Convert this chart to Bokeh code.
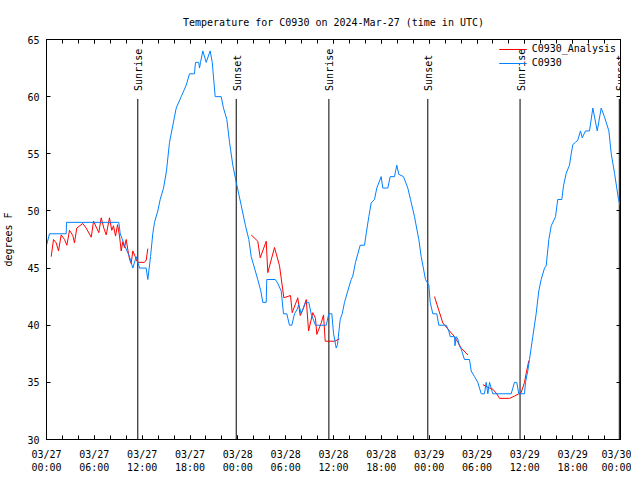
import math
from bokeh.plotting import figure
from bokeh.models import FixedTicker, LinearAxis, Range1d, Legend, LegendItem, ColumnDataSource
from bokeh.core.properties import value
from bokeh.embed import file_html
from bokeh.resources import INLINE

FONT = "DejaVu Sans Mono"
NAN = float("nan")

# x axis: hours since 2024-03-27 00:00 UTC
tick_hours = [0, 6, 12, 18, 24, 30, 36, 42, 48, 54, 60, 66, 72]
tick_labels = ["03/27\n00:00", "03/27\n06:00", "03/27\n12:00", "03/27\n18:00",
               "03/28\n00:00", "03/28\n06:00", "03/28\n12:00", "03/28\n18:00",
               "03/29\n00:00", "03/29\n06:00", "03/29\n12:00", "03/29\n18:00",
               "03/30\n00:00"]
minor_hours = list(range(0, 73, 2))
y_ticks = [30, 35, 40, 45, 50, 55, 60, 65]

# C0930 observed temperature (deg F)
obs_t = [0.0, 0.38, 2.47, 2.51, 9.07, 9.25, 9.78, 10.41, 10.83, 11.25, 11.67, 12.50, 12.71,
         13.05, 13.33, 13.55, 13.96, 14.26, 14.68, 15.05, 15.43, 16.27, 16.90, 17.52, 17.94,
         18.56, 18.69, 19.10, 19.19, 19.32, 19.61, 20.03, 20.53, 20.79, 21.16, 21.91, 22.20,
         22.62, 22.96, 23.37, 23.80, 24.42, 24.96, 25.38, 25.68, 26.09, 26.50, 26.88, 27.13,
         27.56, 27.63, 28.69, 28.98, 29.44, 29.73, 30.14, 30.48, 30.77, 31.11, 31.45, 31.65,
         31.95, 32.49, 32.90, 33.20, 33.74, 35.09, 35.41, 35.79, 36.00, 36.34, 36.50, 36.84,
         37.09, 37.38, 37.79, 38.22, 38.42, 38.76, 39.35, 39.89, 40.10, 40.43, 40.73, 41.14,
         41.43, 41.98, 42.18, 42.81, 43.11, 43.65, 43.94, 44.19, 44.78, 45.32, 45.66, 46.16,
         46.70, 47.00, 47.54, 47.96, 48.13, 48.46, 48.96, 49.21, 50.14, 50.46, 50.64, 51.18,
         51.24, 51.39, 51.59, 51.80, 52.02, 52.43, 53.06, 53.27, 53.69, 54.10, 54.53, 54.94,
         55.15, 55.36, 55.57, 55.98, 58.29, 58.70, 58.99, 59.24, 59.96, 60.08, 60.37, 60.58,
         61.00, 61.42, 61.75, 62.05, 62.47, 62.68, 63.01, 63.31, 63.85, 64.13, 64.64, 64.85,
         65.19, 65.60, 65.82, 66.02, 66.36, 66.64, 66.98, 67.20, 67.61, 68.11, 68.53, 69.08,
         69.58, 70.00, 70.54, 70.84, 71.25, 71.75, 71.95]
obs_v = [47, 48, 48, 49, 49, 48, 47, 46, 45, 46, 45, 45, 44,
         46, 48, 49, 50, 51, 52, 53.5, 56, 59, 60, 61, 62,
         62, 63, 63, 62.5, 63, 64, 63, 64, 63, 60, 60, 59,
         58, 56, 54, 52.5, 50.5, 48.7, 47.5, 46, 45, 44, 43, 42,
         42, 44, 44, 43.7, 43, 41, 41, 40, 40, 41, 41.4, 41.8,
         41, 42, 42, 41, 40, 40, 41, 41, 39.3, 38, 38.3, 40.5,
         41, 42, 43, 44, 44.3, 45.5, 47, 47, 48, 49.5, 50.7, 51,
         52, 53, 52, 52, 53, 53, 54, 53.2, 53, 52, 51, 49.5,
         47.5, 46, 44, 43.5, 42, 41, 41, 40, 40, 39.5, 39, 39,
         38.2, 39, 38.8, 38.2, 37.9, 37, 37, 36, 35.5, 35, 34, 34,
         35, 34, 35, 34, 34, 35, 35, 34, 34, 35, 36, 37,
         39, 41, 43, 44, 45, 45.2, 47.5, 48.7, 49.5, 51, 51, 52.2,
         53.3, 54, 55, 55.8, 56, 56.2, 57, 56.4, 57, 57, 59, 57,
         59, 58.2, 57, 55, 53.3, 51, 50.5]

# C0930_Analysis (deg F); NaN separates the gaps
ana_t = [0.59, 0.88, 1.22, 1.51, 1.84, 2.26, 2.55, 2.89, 3.30, 3.51, 3.80, 4.55, 4.98, 5.61,
         5.90, 6.23, 6.56, 6.86, 7.19, 7.49, 7.90, 8.19, 8.40, 8.66, 8.91, 9.16, 9.37, 9.57,
         9.78, 10.00, 10.20, 10.41, 10.62, 10.83, 11.13, 11.33, 11.54, 12.29, 12.51, 12.71, NAN,
         25.68, 26.50, 26.81, 27.56, 27.76, 28.60, 29.23, 29.77, 30.61, 30.82, 31.52, 31.82,
         32.24, 32.58, 32.87, 33.40, 33.74, 33.91, 34.46, 34.75, 34.96, 36.13, 36.75, NAN,
         48.67, 49.71, 50.55, 51.18, 52.02, 52.85, NAN,
         54.73, 55.57, 55.98, 56.48, 56.82, 58.08, 58.70, 59.24, 59.54, 59.96, 60.17, 60.50]
ana_v = [46.0, 47.5, 47.2, 46.5, 47.9, 47.5, 47.0, 48.3, 47.85, 47.2, 48.5, 48.9, 48.5, 47.7,
         49.1, 48.6, 48.1, 49.4, 48.5, 47.9, 49.4, 48.3, 48.7, 47.8, 48.8, 47.8, 46.5, 47.3,
         46.8, 47.5, 46.6, 45.8, 45.4, 46.5, 46.0, 45.6, 45.5, 45.5, 45.7, 46.7, NAN,
         47.9, 47.35, 45.9, 47.35, 44.6, 46.8, 45.2, 42.4, 42.6, 41.1, 42.4, 40.85,
         41.5, 42.25, 39.5, 41.1, 40.6, 39.2, 40.2, 40.9, 38.6, 38.6, 38.8, NAN,
         42.5, 40.2, 39.5, 39.0, 38.0, 37.4, NAN,
         34.8, 34.5, 34.4, 34.0, 33.6, 33.6, 33.8, 34.0, 34.1, 35.0, 35.8, 36.9]

sun_t = [11.45, 23.80, 35.42, 47.83, 59.40, 71.85]
sun_names = ["Sunrise", "Sunset", "Sunrise", "Sunset", "Sunrise", "Sunset"]
sun_line_top = 59.8
sun_label_y = 60.5

p = figure(frame_width=574, frame_height=400, output_backend="svg", toolbar_location=None,
           x_range=Range1d(0, 72), y_range=Range1d(30, 65),
           min_border_left=41, min_border_right=11, min_border_top=39, min_border_bottom=30,
           title="Temperature for C0930 on 2024-Mar-27 (time in UTC)")
p.title.align = "center"
p.title.text_font = FONT
p.title.text_font_size = "10px"
p.title.text_font_style = "normal"
p.title.text_color = "black"
p.title.offset = 0
p.title.standoff = 24
p.outline_line_color = "black"
p.outline_line_width = 1
p.xgrid.visible = False
p.ygrid.visible = False
p.background_fill_color = "white"
p.border_fill_color = "white"

xt = FixedTicker(ticks=tick_hours, minor_ticks=minor_hours)
yt = FixedTicker(ticks=y_ticks, minor_ticks=[])

xa = p.xaxis[0]
xa.ticker = xt
xa.major_label_overrides = {h: l for h, l in zip(tick_hours, tick_labels)}
ya = p.yaxis[0]
ya.ticker = yt
ya.axis_label = "degrees F"

for ax in (xa, ya):
    ax.major_tick_in = 4
    ax.major_tick_out = 0
    ax.minor_tick_in = 4
    ax.minor_tick_out = 0
    ax.major_label_text_font = FONT
    ax.major_label_text_font_size = "10px"
    ax.major_label_text_color = "black"
    ax.axis_label_text_font = FONT
    ax.axis_label_text_font_size = "10px"
    ax.axis_label_text_font_style = "normal"
    ax.axis_label_text_color = "black"
    ax.axis_line_color = "black"
    ax.major_tick_line_color = "black"
    ax.minor_tick_line_color = "black"
xa.major_label_standoff = 9
ya.major_label_standoff = 7
ya.axis_label_standoff = 10

# mirrored ticks on top and right (no labels)
top = LinearAxis(ticker=xt, major_label_overrides={h: "" for h in tick_hours},
                 major_label_standoff=0,
                 major_tick_in=4, major_tick_out=0, minor_tick_in=4, minor_tick_out=0,
                 axis_line_color="black")
right = LinearAxis(ticker=yt, major_label_overrides={v: "" for v in y_ticks},
                   major_label_standoff=0,
                   major_tick_in=4, major_tick_out=0, minor_tick_in=0, minor_tick_out=0,
                   axis_line_color="black")
p.add_layout(top, "above")
p.add_layout(right, "right")

# sunrise / sunset markers
sun_src = ColumnDataSource(dict(t=sun_t, name=sun_names,
                                y0=[30] * len(sun_t), y1=[sun_line_top] * len(sun_t),
                                ly=[sun_label_y] * len(sun_t)))
p.segment(x0="t", y0="y0", x1="t", y1="y1", source=sun_src, line_color="black", line_width=1)
p.text(x="t", y="ly", text="name", source=sun_src, angle=math.pi / 2,
       text_align="left", text_baseline="middle", text_font=value(FONT),
       text_font_size="10px", text_color="black", x_offset=1)

r_ana = p.line(ana_t, ana_v, line_color="#ff0000", line_width=1)
r_obs = p.line(obs_t, obs_v, line_color="#0080ff", line_width=1)

legend = Legend(items=[LegendItem(label="C0930_Analysis", renderers=[r_ana]),
                       LegendItem(label="C0930", renderers=[r_obs])],
                location="top_right", border_line_color=None, background_fill_alpha=0,
                label_text_font=FONT, label_text_font_size="10px", label_text_color="black",
                glyph_width=28, glyph_height=10, label_height=10, spacing=3, padding=2,
                margin=4)
p.add_layout(legend)

open("out.html", "w").write(file_html(p, INLINE))
